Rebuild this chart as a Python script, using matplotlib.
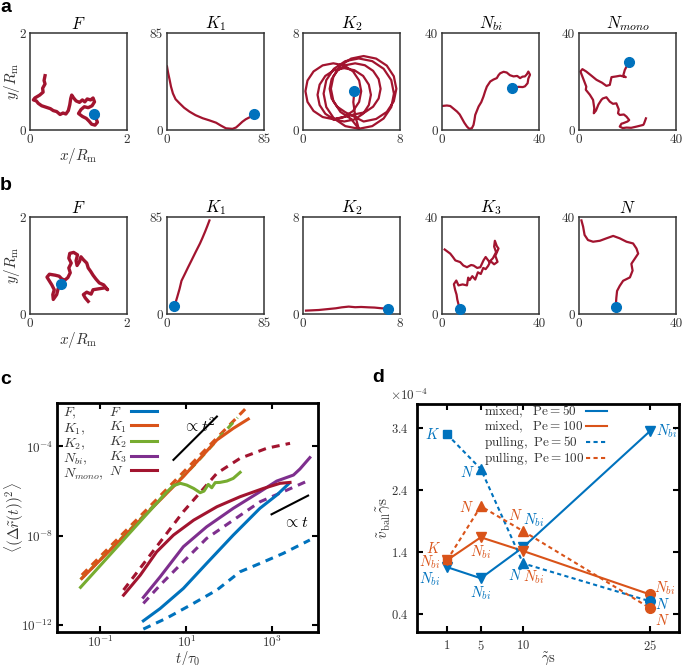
import numpy as np
import matplotlib
matplotlib.use('Agg')
import matplotlib.pyplot as plt
from matplotlib.ticker import NullLocator

plt.rcParams['mathtext.fontset'] = 'cm'
plt.rcParams['font.family'] = 'cmr10'
plt.rcParams['axes.formatter.use_mathtext'] = True
plt.rcParams['axes.unicode_minus'] = True

BLUE = '#0072BD'
ORANGE = '#D95319'
GREEN = '#77AC30'
PURPLE = '#7E2F8E'
RED = '#A2142F'

# ---------------- panel a / b trajectories (x, y in units of R_m) ----------------
a_titles = [r'$F$', r'$K_1$', r'$K_2$', r'$N_{bi}$', r'$N_{mono}$']
a_limits = [2, 85, 8, 40, 40]
b_titles = [r'$F$', r'$K_1$', r'$K_2$', r'$K_3$', r'$N$']
b_limits = [2, 85, 8, 40, 40]

a_F_x = [0.31, 0.29, 0.31, 0.26, 0.27, 0.20, 0.10, 0.07, 0.13, 0.17, 0.24, 0.33, 0.42, 0.48, 0.55, 0.62,
         0.68, 0.74, 0.79, 0.82, 0.84, 0.86, 0.90, 0.95, 1.02, 1.08, 1.13, 1.18, 1.25, 1.30, 1.33, 1.28,
         1.20, 1.12, 1.05, 1.00, 1.08, 1.16, 1.22, 1.27, 1.34, 1.39, 1.36, 1.40, 1.35, 1.31]
a_F_y = [1.12, 1.02, 0.95, 0.86, 0.78, 0.72, 0.66, 0.62, 0.60, 0.55, 0.50, 0.47, 0.44, 0.40, 0.38, 0.32,
         0.35, 0.33, 0.40, 0.52, 0.65, 0.72, 0.66, 0.60, 0.57, 0.62, 0.58, 0.64, 0.62, 0.66, 0.58, 0.50,
         0.46, 0.48, 0.42, 0.34, 0.28, 0.24, 0.18, 0.12, 0.10, 0.16, 0.24, 0.28, 0.31, 0.33]
a_K1_x = [0, 1, 2.3, 3.5, 5.2, 7.5, 11, 15, 19.7, 25, 31.3, 37, 43, 47, 51.6, 57.4, 60.5, 63, 66, 69, 72.5, 76.3]
a_K1_y = [55.7, 50, 44, 38, 32, 27, 23.4, 19.5, 16.1, 13, 10.3, 8.5, 6.4, 4, 1.5, 1.0, 2.2, 4.4, 7.2, 9.4, 11.2, 14.1]
a_K2_x = [2.5, 3.38, 4.13, 4.63, 4.8, 4.63, 4.13, 3.38, 2.5, 1.62, 0.87, 0.37, 0.2, 0.37, 0.87, 1.62,
          3.4, 4.24, 4.96, 5.43, 5.6, 5.43, 4.96, 4.24, 3.4, 2.56, 1.84, 1.37, 1.2, 1.37, 1.84, 2.56,
          4.3, 5.1, 5.78, 6.24, 6.4, 6.24, 5.78, 5.1, 4.3, 3.5, 2.82, 2.36, 2.2, 2.36, 2.82, 3.5,
          5.0, 6.03, 6.91, 7.49, 7.7, 7.49, 6.91, 6.03, 5.0, 3.97, 3.09, 2.51, 2.3, 2.51, 3.09, 3.97,
          4.6, 5.71, 6.65, 7.28, 7.5, 7.28, 6.65, 5.71, 4.6, 3.49, 2.55, 1.92, 1.7, 1.92, 2.55, 3.49,
          4.6, 4.3, 4.15, 4.24]
a_K2_y = [0.9, 1.07, 1.57, 2.32, 3.2, 4.08, 4.83, 5.33, 5.5, 5.33, 4.83, 4.08, 3.2, 2.32, 1.57, 1.07,
          0.7, 0.87, 1.34, 2.06, 2.9, 3.74, 4.46, 4.93, 5.1, 4.93, 4.46, 3.74, 2.9, 2.06, 1.34, 0.87,
          1.3, 1.46, 1.92, 2.6, 3.4, 4.2, 4.88, 5.34, 5.5, 5.34, 4.88, 4.2, 3.4, 2.6, 1.92, 1.46,
          0.7, 0.91, 1.49, 2.37, 3.4, 4.43, 5.31, 5.89, 6.1, 5.89, 5.31, 4.43, 3.4, 2.37, 1.49, 0.91,
          0.1, 0.32, 0.95, 1.89, 3.0, 4.11, 5.05, 5.68, 5.9, 5.68, 5.05, 4.11, 3.0, 1.89, 0.95, 0.32,
          0.1, 1.2, 2.3, 3.2]
a_Nbi_x = [0, 2, 3.4, 4.5, 6.2, 7.3, 8.2, 9.2, 10.3, 11.2, 12.3, 13, 13.4, 13.7, 14.5, 15.1, 16.2, 17.1,
           17.8, 18.5, 19.9, 21.2, 22.6, 23.3, 24, 25.4, 26.7, 28.0, 29.5, 31.0, 32.2, 33.2, 34.2, 35.0,
           35.6, 36.3, 35.6, 35.3, 34.2, 33.3, 31.5, 30.2, 29]
a_Nbi_y = [9.9, 10.1, 9.9, 9.0, 7.6, 6.4, 4.8, 3.0, 1.4, 0.5, 0.7, 2.1, 4.2, 6.2, 8.2, 9.7, 11.5, 13.8,
           16.0, 17.9, 20, 20.8, 21.4, 22.6, 23.4, 24.0, 23.7, 22.6, 22.1, 22.3, 21.4, 22.0, 22.1, 23.0,
           24.1, 22.8, 21.2, 19.3, 18.0, 17.7, 17.8, 17.4, 17.5]
a_Nmono_x = [27.6, 26.8, 26.5, 23.7, 21.5, 19.6, 18.0, 16.8, 17.5, 18.2, 20.0, 20.7, 19.6, 18.5, 16.8, 16.1,
             16.4, 15.4, 14.0, 12.7, 11.3, 9.8, 9.2, 8.0, 7.0, 6.1, 6.3, 5.8, 4.5, 2.8, 3.0, 2.0, 0.6, 1.4,
             3.0, 5.0, 7.2, 9.5, 11.3, 12.7, 13.4, 15.4, 17.0, 19.3, 18.2, 18.9, 19.8, 20.7]
a_Nmono_y = [4.8, 2.6, 2.1, 1.4, 0.9, 1.0, 0.8, 1.4, 2.6, 2.8, 3.5, 4.1, 5.5, 6.4, 6.2, 6.9,
             8.5, 11, 10.8, 11.7, 13.5, 13.0, 12.4, 10.5, 8.0, 6.9, 9.0, 12.4, 14.5, 16.6, 17.9, 20.5, 24.1, 25.1,
             24.1, 22.5, 20.7, 19.5, 18.2, 18.6, 21.8, 22.1, 22.4, 21.8, 22.3, 24.8, 26.5, 28]

b_F_x = [1.20, 1.14, 1.10, 1.17, 1.26, 1.30, 1.42, 1.55, 1.60, 1.52, 1.43, 1.36, 1.30, 1.25, 1.20, 1.17,
         1.10, 1.05, 1.02, 0.97, 0.95, 0.98, 0.90, 0.82, 0.80, 0.85, 0.80, 0.83, 0.78, 0.72, 0.66, 0.60,
         0.52, 0.40, 0.35, 0.40, 0.45, 0.50, 0.47, 0.48, 0.55, 0.58, 0.63]
b_F_y = [0.26, 0.33, 0.40, 0.45, 0.41, 0.50, 0.52, 0.54, 0.50, 0.60, 0.64, 0.72, 0.80, 0.88, 0.95, 1.05,
         1.12, 1.18, 1.08, 1.00, 1.10, 1.22, 1.27, 1.25, 1.15, 1.05, 0.95, 0.85, 0.75, 0.70, 0.72, 0.78,
         0.80, 0.82, 0.76, 0.68, 0.60, 0.50, 0.40, 0.30, 0.40, 0.52, 0.62]
b_K1_x = [37.2, 35.3, 33.4, 31.0, 28.9, 25.2, 21.5, 18.5, 15.6, 12.7, 11.0, 9.0, 7.5, 6.2]
b_K1_y = [82, 77, 72.2, 66.5, 61.8, 54.5, 47, 41, 35, 29.1, 22, 15, 10, 6.8]
b_K2_x = [0.25, 0.7, 1.3, 2.0, 2.7, 3.2, 3.77, 4.3, 4.8, 5.4, 5.9, 6.5, 7.0]
b_K2_y = [0.28, 0.30, 0.33, 0.40, 0.47, 0.55, 0.61, 0.56, 0.58, 0.55, 0.53, 0.47, 0.45]
b_K3_x = [1.1, 3.4, 4.5, 5.5, 7.5, 8.8, 10.3, 12.0, 13, 14.5, 15.8, 17.1, 18.0, 19.5, 21.0, 22.3, 21.5,
          21.8, 22.6, 23.3, 22.0, 22.9, 21.5, 20.0, 19.0, 18.0, 17.0, 16.0, 14.8, 13.7, 12.5, 11.4, 10.8,
          10.3, 8.5, 6.8, 5.9, 4.9, 5.4, 6.0, 6.3, 6.8, 7.2, 7.5]
b_K3_y = [26.6, 24.9, 23.5, 22.1, 21.4, 20.0, 19.3, 20.2, 20, 19.0, 19.3, 22.1, 23.5, 21.5, 23.0, 25.5, 27.8,
          30.2, 28.0, 27.0, 24.0, 21.5, 20.5, 21.8, 19.8, 18.5, 19.0, 16.5, 17.2, 14.2, 15.6, 14.0, 15.0,
          11.8, 12.2, 11.8, 13.8, 12.3, 10.0, 8.0, 6.0, 4.0, 2.8, 2.2]
b_N_x = [1, 1.7, 2.3, 3.7, 5.8, 8.6, 11.3, 14.1, 16.8, 19.6, 22.3, 23.7, 24.4, 23, 21.6, 22.1, 21, 18.2,
         16.8, 15.7, 15.4, 15.2, 15.4]
b_N_y = [38.6, 36, 32.6, 30.5, 29.8, 30.2, 31.2, 32.2, 31.2, 29.8, 29.1, 27, 24.9, 22.8, 20.7, 17.9, 15.1,
         13.7, 11.6, 9.5, 6.7, 3.9, 2.8]

a_traj = [(a_F_x, a_F_y), (a_K1_x, a_K1_y), (a_K2_x, a_K2_y), (a_Nbi_x, a_Nbi_y), (a_Nmono_x, a_Nmono_y)]
b_traj = [(b_F_x, b_F_y), (b_K1_x, b_K1_y), (b_K2_x, b_K2_y), (b_K3_x, b_K3_y), (b_N_x, b_N_y)]

# ---------------- panel c: MSD curves (log10 t, log10 MSD) ----------------
c_legend_dashed = [r'$F,$', r'$K_1,$', r'$K_2,$', r'$N_{bi},$', r'$N_{mono},$']
c_legend_solid = [r'$F$', r'$K_1$', r'$K_2$', r'$K_3$', r'$N$']

lt_F = [0.0, 0.39, 0.93, 1.47, 2.09, 2.71, 3.10, 3.39]
ly_F = [-11.81, -11.26, -10.36, -9.24, -7.97, -6.77, -6.18, -5.65]
lt_F_d = [0.0, 0.55, 1.09, 1.71, 2.25, 2.71, 3.25, 3.87]
ly_F_d = [-12.18, -11.68, -11.11, -10.43, -9.61, -9.24, -8.79, -8.19]
lt_K1 = [-1.43, -0.23, 0.93, 1.71, 2.09, 2.44]
ly_K1 = [-9.91, -7.60, -5.35, -3.71, -3.19, -2.77]
lt_K1_d = [-1.43, 0.0, 1.2, 2.40]
ly_K1_d = [-9.76, -6.98, -4.62, -2.26]
lt_K2 = [-1.46, 0.55, 0.70, 0.86, 1.01, 1.17, 1.32, 1.41, 1.51, 1.59, 1.67, 1.78, 1.94, 2.09, 2.25]
ly_K2 = [-10.31, -6.03, -5.76, -5.65, -5.73, -5.88, -6.07, -6.00, -5.70, -5.85, -5.62, -5.61, -5.55, -5.43, -5.16]
lt_K2_d = [-1.46, 0.0, 1.2, 2.19]
ly_K2_d = [-9.96, -7.12, -4.80, -2.71]
lt_K3 = [0.0, 0.39, 0.93, 1.47, 2.09, 2.71, 3.10, 3.49, 3.64, 3.87]
ly_K3 = [-10.76, -9.84, -8.49, -7.60, -6.77, -6.03, -5.55, -5.28, -5.01, -4.50]
lt_K3_d = [0.0, 0.39, 0.93, 1.47, 2.09, 2.71, 3.25, 3.87]
ly_K3_d = [-11.03, -10.21, -9.16, -8.12, -7.30, -6.48, -6.03, -5.50]
lt_N = [-0.46, -0.07, 0.31, 0.70, 1.17, 1.71, 2.25, 2.79, 3.18, 3.41]
ly_N = [-10.66, -9.76, -8.72, -7.97, -7.30, -6.70, -6.25, -5.88, -5.65, -5.61]
lt_N_d = [-0.46, 0.16, 0.93, 1.71, 2.25, 2.87, 3.41]
ly_N_d = [-10.43, -8.86, -6.92, -5.20, -4.53, -4.08, -3.86]

ref_t2_lt = [0.70, 1.71]
ref_t2_ly = [-4.60, -2.66]
ref_t1_lt = [2.98, 3.83]
ref_t1_ly = [-7.04, -6.20]

# ---------------- panel d ----------------
gamma_s = [1, 5, 10, 25]
mixed_pe50 = [1.16e-4, 0.98e-4, 1.48e-4, 3.35e-4]
mixed_pe100 = [1.27e-4, 1.64e-4, 1.42e-4, 0.72e-4]
pulling_pe50 = [3.30e-4, 2.74e-4, 1.22e-4, 0.61e-4]
pulling_pe100 = [1.27e-4, 2.14e-4, 1.74e-4, 0.50e-4]
mixed_pe50_state = ['N_{bi}', 'N_{bi}', 'N_{bi}', 'N_{bi}']
mixed_pe100_state = ['N_{bi}', 'N_{bi}', 'N_{bi}', 'N_{bi}']
pulling_pe50_state = ['K', 'N', 'N', 'N']
pulling_pe100_state = ['K', 'N', 'N', 'N']
d_legend = [r'$\mathrm{mixed,}\ \ \mathrm{Pe}=50$', r'$\mathrm{mixed,}\ \ \mathrm{Pe}=100$',
            r'$\mathrm{pulling,}\ \mathrm{Pe}=50$', r'$\mathrm{pulling,}\ \mathrm{Pe}=100$']

# ================= drawing =================
W, H = 686, 665
fig = plt.figure(figsize=(W / 100, H / 100), dpi=100)


def px_axes(x0, y0, x1, y1):
    return fig.add_axes([x0 / W, 1 - y1 / H, (x1 - x0) / W, (y1 - y0) / H])


def left_align_legend(leg, width_px):
    for col in leg._legend_handle_box.get_children():
        col.width = width_px
        for item in col.get_children():
            item.mode = 'expand'


box_lefts = [30, 167, 303, 442, 579]
for row, (titles, limits, trajs, top) in enumerate([(a_titles, a_limits, a_traj, 33),
                                                     (b_titles, b_limits, b_traj, 217)]):
    for i in range(5):
        ax = px_axes(box_lefts[i], top, box_lefts[i] + 97, top + 97)
        xs, ys = trajs[i]
        lw = 2.4 if i == 0 else 1.6
        ax.plot(xs, ys, color=RED, lw=lw, solid_joinstyle='round', zorder=2)
        ax.plot(xs[-1:], ys[-1:], 'o', color=BLUE, ms=7, zorder=3)
        lim = limits[i]
        ax.set_xlim(0, lim)
        ax.set_ylim(0, lim)
        ax.set_xticks([0, lim], labels=['0', str(lim)])
        ax.set_yticks([0, lim], labels=['0', str(lim)])
        ax.tick_params(length=0, pad=3, labelsize=9.5, labelcolor='#333333')
        for sp in ax.spines.values():
            sp.set_linewidth(1.1)
            sp.set_color('#333333')
        ax.set_title(titles[i], fontsize=12, pad=3)
        if i == 0:
            ax.set_xlabel(r'$x/R_\mathrm{m}$', fontsize=11, labelpad=0, color='#333333')
            ax.set_ylabel(r'$y/R_\mathrm{m}$', fontsize=11, labelpad=-2, color='#333333')

# ---------- panel c ----------
axc = px_axes(57.3, 402.7, 318, 632)
dash = (2.6, 2.0)
solid_series = [(lt_F, ly_F, BLUE), (lt_K1, ly_K1, ORANGE), (lt_K2, ly_K2, GREEN),
                (lt_K3, ly_K3, PURPLE), (lt_N, ly_N, RED)]
dashed_series = [(lt_F_d, ly_F_d, BLUE), (lt_K1_d, ly_K1_d, ORANGE), (lt_K2_d, ly_K2_d, GREEN),
                 (lt_K3_d, ly_K3_d, PURPLE), (lt_N_d, ly_N_d, RED)]
dashed_handles = []
for lt, ly, c in dashed_series:
    h, = axc.plot(10 ** np.array(lt), 10 ** np.array(ly), color=c, lw=2.2, dashes=dash)
    dashed_handles.append(h)
solid_handles = []
for lt, ly, c in solid_series:
    h, = axc.plot(10 ** np.array(lt), 10 ** np.array(ly), color=c, lw=2.2)
    solid_handles.append(h)
axc.plot(10 ** np.array(ref_t2_lt), 10 ** np.array(ref_t2_ly), color='k', lw=1.5)
axc.plot(10 ** np.array(ref_t1_lt), 10 ** np.array(ref_t1_ly), color='k', lw=1.5)
axc.text(10 ** 1.30, 10 ** -3.04, r'$\propto t^2$', fontsize=11.5, ha='center', va='center')
axc.text(10 ** 3.54, 10 ** -7.45, r'$\propto t$', fontsize=11.5, ha='center', va='center')
axc.set_xscale('log')
axc.set_yscale('log')
axc.set_xlim(1e-2, 10 ** 4.06)
axc.set_ylim(10 ** -12.31, 10 ** -2.04)
axc.set_xticks([1e-1, 1e1, 1e3])
axc.set_yticks([1e-12, 1e-8, 1e-4])
axc.xaxis.set_minor_locator(NullLocator())
axc.yaxis.set_minor_locator(NullLocator())
axc.tick_params(direction='in', top=True, right=True, length=4, width=1.5, labelsize=9.5, pad=3,
                labelcolor='#333333')
axc.tick_params(axis='x', pad=2)
for sp in axc.spines.values():
    sp.set_linewidth(2)
axc.set_xlabel(r'$t/\tau_0$', fontsize=10.5, labelpad=-1, color='#333333')
axc.set_ylabel(r'$\langle(\Delta\tilde{r}(t))^2\rangle$', fontsize=11, labelpad=-3, color='#333333')

leg1 = axc.legend(dashed_handles, c_legend_dashed, loc='upper left', bbox_to_anchor=(0.022, 0.985),
                  frameon=False, fontsize=10, handlelength=0, handletextpad=0, borderpad=0,
                  borderaxespad=0, labelspacing=0.0)
for t in leg1.get_texts():
    t.set_color('#333333')
axc.add_artist(leg1)
leg2 = axc.legend(solid_handles, c_legend_solid, loc='upper left', bbox_to_anchor=(0.198, 0.985),
                  frameon=False, fontsize=10, handlelength=1.9, handletextpad=0.5, borderpad=0,
                  borderaxespad=0, labelspacing=0.0, markerfirst=False)
for t in leg2.get_texts():
    t.set_color('#333333')
left_align_legend(leg2, 48)

# ---------- panel d ----------
axd = px_axes(417.3, 404, 679.3, 632.3)
series_d = [(mixed_pe50, BLUE, '-', mixed_pe50_state, ['v', 'v', 'v', 'v']),
            (mixed_pe100, ORANGE, '-', mixed_pe100_state, ['v', 'v', 'v', 'o']),
            (pulling_pe50, BLUE, '--', pulling_pe50_state, ['s', '^', '^', 'o']),
            (pulling_pe100, ORANGE, '--', pulling_pe100_state, ['s', '^', '^', 'o'])]
d_handles = []
for vals, c, ls, states, mks in series_d:
    if ls == '-':
        h, = axd.plot(gamma_s, vals, color=c, lw=1.5)
    else:
        h, = axd.plot(gamma_s, vals, color=c, lw=1.5, dashes=(2.0, 1.6))
    d_handles.append(h)
for vals, c, ls, states, mks in series_d:
    for g, v, m in zip(gamma_s, vals, mks):
        ms = 5.5 if m == 's' else 7
        axd.plot([g], [v], marker=m, color=c, ms=ms, ls='none', zorder=4)

# state labels: offsets in pixels (dx right, dy down) for each (series, point)
label_offsets = {
    (0, 0): (-17, 12), (0, 1): (0, 15), (0, 2): (10, -27), (0, 3): (17, 0),
    (1, 0): (-17, 2), (1, 1): (0, 15), (1, 2): (10, 26), (1, 3): (15, -6),
    (2, 0): (-14, 0), (2, 1): (-13, 3), (2, 2): (-8, 12), (2, 3): (12, 3),
    (3, 0): (-13, -12), (3, 1): (-14, 1), (3, 2): (-8, -16), (3, 3): (12, 12),
}
for si, (vals, c, ls, states, mks) in enumerate(series_d):
    for pi, (g, v, st) in enumerate(zip(gamma_s, vals, states)):
        dx, dy = label_offsets[(si, pi)]
        axd.annotate(r'$%s$' % st, xy=(g, v), xytext=(dx * 0.72, -dy * 0.72),
                     textcoords='offset points', ha='center', va='center', color=c, fontsize=10.5)

axd.set_xlim(-2.51, 28.47)
axd.set_ylim(0.110e-4, 3.787e-4)
axd.set_xticks(gamma_s)
axd.set_yticks([0.4e-4, 1.4e-4, 2.4e-4, 3.4e-4])
axd.ticklabel_format(axis='y', style='sci', scilimits=(0, 0))
axd.yaxis.get_offset_text().set_fontsize(9.5)
axd.yaxis.get_offset_text().set_color('#333333')
axd.yaxis.get_offset_text().set_x(-0.103)
axd.tick_params(direction='in', top=True, right=True, length=4, width=1.5, labelsize=9, pad=6,
                labelcolor='#333333')
axd.tick_params(axis='x', pad=5)
for sp in axd.spines.values():
    sp.set_linewidth(2)
axd.set_xlabel(r'$\tilde{\gamma}\mathrm{s}$', fontsize=10.5, labelpad=-2, color='#333333')
axd.set_ylabel(r'$\tilde{v}_{\mathrm{ball}}\tilde{\gamma}\mathrm{s}$', fontsize=11, labelpad=-1,
               color='#333333')
legd = axd.legend(d_handles, d_legend, loc='upper left', bbox_to_anchor=(0.255, 1.0), frameon=False,
                  fontsize=9.5, handlelength=1.6, handletextpad=0.5, borderpad=0, borderaxespad=0,
                  labelspacing=-0.08, markerfirst=False)
for t in legd.get_texts():
    t.set_color('#333333')
left_align_legend(legd, 123)

# ---------- panel letters ----------
for letter, x, y in [('a', 6, 8), ('b', 6, 186), ('c', 6, 379), ('d', 378, 378)]:
    fig.text(x / W, 1 - y / H, letter, fontsize=14, fontweight='bold', family='Liberation Sans',
             ha='center', va='center')

fig.savefig('out.png', dpi=100)
